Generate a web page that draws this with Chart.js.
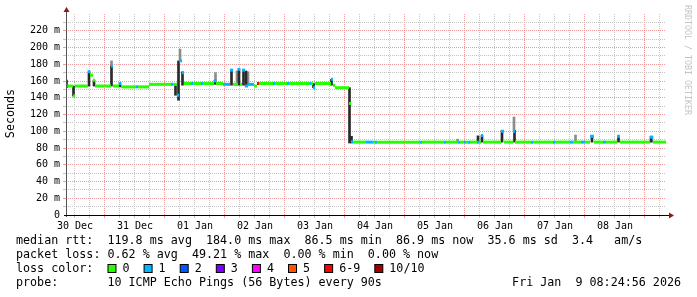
<!DOCTYPE html>
<html>
<head>
<meta charset="utf-8">
<script src="https://cdn.jsdelivr.net/npm/chart.js@4"></script>
<style>
  html, body { margin: 0; padding: 0; background: #fff; }
  canvas { display: block; }
</style>
</head>
<body>
<canvas id="chart" width="697" height="297"></canvas>
<script>
// time axis: hours since Tue 30 Dec 08:24:56 (graph spans 240 h)
// median rtt, one entry per step (start hour, ms, lost pings of 10)
const stepHours = [0.0, 0.8, 2.8, 3.6, 8.8, 9.6, 10.8, 11.6, 18.0, 18.8, 21.2, 22.0, 28.0, 28.8, 33.2,
  42.0, 42.8, 44.4, 45.2, 46.4, 47.2, 50.0, 50.8, 54.0, 54.8, 59.2, 60.0, 62.8, 65.6, 66.8, 68.8,
  69.6, 70.4, 71.6, 72.8, 75.2, 76.4, 77.2, 82.8, 83.6, 88.4, 89.2, 97.6, 98.0, 98.8, 99.6, 106.0,
  106.8, 107.6, 113.2, 114.0, 114.8, 120.0, 122.8, 123.6, 124.4, 141.6, 142.4, 151.2, 152.0, 156.8,
  157.6, 159.2, 160.0, 160.8, 161.6, 164.4, 165.2, 166.0, 166.8, 174.0, 175.2, 178.8, 179.6, 186.0,
  186.8, 194.8, 195.6, 201.6, 202.8, 206.0, 207.6, 209.6, 211.2, 214.8, 216.0, 220.4, 221.6, 233.6,
  234.8];
const stepMedian = [154, 154, 142, 154, 171, 167, 161, 154, 178, 154, 157, 153, 153, 153, 156,
  156, 156, 143, 184, 170, 157, 157, 157, 157, 157, 160, 157, 156, 173, 156, 174,
  156, 173, 154, 156, 154, 157, 157, 157, 157, 157, 157, 157, 157, 152, 157, 162,
  155, 152, 133, 87.5, 87, 87, 87, 87, 87, 87, 87, 87, 87, 87,
  87, 87, 87, 87, 87, 87, 87, 95, 87, 100, 87, 100, 87, 87,
  87, 87, 87, 87, 87, 87, 87, 94, 87, 87, 87, 94, 87, 93,
  87];
const stepLoss = [1, 0, 0, 0, 1, 0, 0, 0, 1, 0, 1, 0, 1, 0, 0,
  1, 0, 1, 1, 1, 0, 1, 0, 1, 0, 1, 0, 1, 1, 0, 1,
  0, 1, 1, 1, 0, 6, 0, 1, 0, 1, 0, 1, 0, 1, 0, 1,
  0, 0, 0, 1, 0, 1, 0, 1, 0, 1, 0, 1, 0, 1,
  0, 1, 0, 1, 0, 1, 0, 1, 0, 1, 0, 1, 0, 1,
  0, 1, 0, 1, 0, 1, 0, 1, 0, 1, 0, 1, 0, 1,
  0];
const endHour = 240;

// dark smoke (spread of the pings)
const smokeHours = [0.2, 3.0, 9.2, 11.2, 18.2, 21.6, 43.8, 45.0, 46.6, 59.6, 66.2, 69.2, 71.0, 72.0,
  99.0, 106.2, 113.4, 114.2, 164.8, 166.4, 174.4, 179.4, 210.4, 221.0, 234.0];
const smokeLow = [152, 142, 154, 154, 154, 153, 143, 137, 155, 156, 155, 155, 155, 154,
  152, 155, 86, 86, 87, 87, 87, 87, 87, 87, 87];
const smokeHigh = [161, 154, 172, 161, 178, 158, 157, 184, 171, 161, 173, 175, 173, 172,
  157, 162, 152, 94, 94.5, 95, 101, 101, 94.5, 94, 94];

// pale smoke (outer pings)
const paleHours = [18.2, 45.6, 59.8, 68.4, 72.8, 156.6, 179.2, 203.8, 234.4];
const paleLow = [178, 184, 161, 155, 155, 87, 101, 87, 87];
const paleHigh = [184, 198, 170, 172, 171, 90.5, 117, 95.5, 94];

const dayLabels = ['30 Dec', '31 Dec', '01 Jan', '02 Jan', '03 Jan', '04 Jan', '05 Jan', '06 Jan', '07 Jan', '08 Jan'];
const firstNoon = 3.584;   // 30 Dec 12:00

const lossLabels = ['0', '1', '2', '3', '4', '5', '6-9', '10/10'];
const lossColors = ['#26ff00', '#00b8ff', '#0059ff', '#7e00ff', '#ff00ff', '#ff5500', '#ff0000', '#a10000'];

const statLines = [
  'median rtt:  119.8 ms avg  184.0 ms max  86.5 ms min  86.9 ms now  35.6 ms sd  3.4   am/s',
  'packet loss: 0.62 % avg  49.21 % max  0.00 % min  0.00 % now'
];
const probeText = 'probe:       10 ICMP Echo Pings (56 Bytes) every 90s';
const dateText = 'Fri Jan  9 08:24:56 2026';

function lossColor(n) {
  if (n >= 10) return lossColors[7];
  if (n >= 6) return lossColors[6];
  return lossColors[n];
}

const medianPoints = [];
stepHours.forEach((h, i) => {
  const end = i + 1 < stepHours.length ? stepHours[i + 1] : endHour;
  medianPoints.push({ x: h, y: stepMedian[i] }, { x: end, y: stepMedian[i] }, { x: end, y: null });
});

const xTicks = [];
for (let v = firstNoon; v < endHour; v += 6) xTicks.push(v);

const MINOR = '#c4c4c4';
const MAJOR = '#ec9c9c';
const MONO = "'DejaVu Sans Mono', monospace";

Chart.defaults.font.family = MONO;

const extras = {
  id: 'extras',
  beforeDraw(chart) {
    const c = chart.ctx;
    c.save();
    c.fillStyle = '#fff';
    c.fillRect(0, 0, chart.width, chart.height);
    c.restore();
  },
  afterDraw(chart) {
    const c = chart.ctx;
    const a = chart.chartArea;
    c.save();

    // axes with arrows
    c.lineWidth = 1;
    c.strokeStyle = '#555';
    c.beginPath();
    c.moveTo(a.left + 0.5, a.bottom + 2);
    c.lineTo(a.left + 0.5, 10);
    c.stroke();
    c.strokeStyle = '#000';
    c.beginPath();
    c.moveTo(a.left - 2, a.bottom + 0.5);
    c.lineTo(a.right + 5, a.bottom + 0.5);
    c.stroke();
    c.fillStyle = '#8b1a1a';
    c.beginPath();
    c.moveTo(a.left + 0.5, 7);
    c.lineTo(a.left - 2.5, 12);
    c.lineTo(a.left + 3.5, 12);
    c.closePath();
    c.fill();
    c.beginPath();
    c.moveTo(a.right + 8, a.bottom + 0.5);
    c.lineTo(a.right + 3, a.bottom - 2.5);
    c.lineTo(a.right + 3, a.bottom + 3.5);
    c.closePath();
    c.fill();

    // axis title
    c.fillStyle = '#000';
    c.font = '11.7px ' + MONO;
    c.textAlign = 'center';
    c.textBaseline = 'middle';
    c.save();
    c.translate(10.5, 113.5);
    c.rotate(-Math.PI / 2);
    c.fillText('Seconds', 0, 0);
    c.restore();

    // watermark
    c.save();
    c.fillStyle = '#c4c4c4';
    c.font = '8.3px ' + MONO;
    c.translate(687, 5);
    c.rotate(Math.PI / 2);
    c.textAlign = 'left';
    c.fillText('RRDTOOL / TOBI OETIKER', 0, 0);
    c.restore();

    // legend block
    c.font = '11.7px ' + MONO;
    c.textAlign = 'left';
    c.fillStyle = '#000';
    const left = 16;
    c.fillText(statLines[0], left, 241);
    c.fillText(statLines[1], left, 255);
    c.fillText('loss color:', left, 269);
    const cw = c.measureText('0').width;
    let bx = left + 13 * cw;
    lossLabels.forEach((lab, i) => {
      c.fillStyle = lossColors[i];
      c.fillRect(bx + 0.5, 264.5, 8, 8);
      c.strokeStyle = '#000';
      c.strokeRect(bx + 0.5, 264.5, 8, 8);
      c.fillStyle = '#000';
      c.fillText(lab, bx + 15, 269);
      bx += 15 + (lab.length + 2) * cw;
    });
    c.fillText(probeText, left, 283);
    c.textAlign = 'right';
    c.fillText(dateText, 681, 283);
    c.restore();
  }
};

new Chart(document.getElementById('chart'), {
  type: 'line',
  data: {
    datasets: [
      {
        label: 'median',
        data: medianPoints,
        order: 0,
        borderWidth: 3,
        borderCapStyle: 'butt',
        pointRadius: 0,
        spanGaps: false,
        tension: 0,
        borderColor: lossColors[0],
        segment: {
          borderColor: ctx => lossColor(stepLoss[Math.floor(ctx.p0DataIndex / 3)])
        }
      },
      {
        type: 'bar',
        label: 'smoke',
        data: smokeHours.map((h, i) => ({ x: h, y: [smokeLow[i], smokeHigh[i]] })),
        order: 1,
        backgroundColor: '#2a2a2a',
        barThickness: 2,
        grouped: false
      },
      {
        type: 'bar',
        label: 'pale smoke',
        data: paleHours.map((h, i) => ({ x: h, y: [paleLow[i], paleHigh[i]] })),
        order: 2,
        backgroundColor: '#8c8c8c',
        barThickness: 2,
        grouped: false
      }
    ]
  },
  options: {
    responsive: false,
    animation: false,
    devicePixelRatio: 1,
    layout: { padding: { left: 0, right: 31, top: 14, bottom: 0 } },
    plugins: { legend: { display: false }, tooltip: { enabled: false } },
    scales: {
      x: {
        type: 'linear',
        min: 0,
        max: endHour,
        offset: false,
        afterBuildTicks: s => { s.ticks = xTicks.map(v => ({ value: v })); },
        afterFit: s => { s.height = 82; },
        border: { display: false, dash: [1, 1] },
        grid: {
          offset: false,
          tickLength: 3,
          color: ctx => {
            const k = Math.round((ctx.tick.value - firstNoon) / 6);
            return k % 4 === 2 ? MAJOR : MINOR;
          }
        },
        ticks: {
          autoSkip: false,
          maxRotation: 0,
          minRotation: 0,
          padding: 2,
          color: '#000',
          font: { size: 10 },
          callback: (v, i) => (i % 4 === 0 ? dayLabels[i / 4] : '')
        }
      },
      y: {
        min: 0,
        max: 240,
        afterFit: s => { s.width = 66; },
        border: { display: false, dash: [1, 1] },
        grid: {
          tickLength: 3,
          color: ctx => {
            const v = ctx.tick.value;
            if (v === 0 || v === 240) return 'rgba(0,0,0,0)';
            return v % 20 === 0 ? MAJOR : MINOR;
          }
        },
        ticks: {
          stepSize: 10,
          autoSkip: false,
          padding: 3,
          color: '#000',
          font: { size: 10 },
          callback: v => (v % 20 === 0 && v < 240 ? (v === 0 ? '0' : v + ' m') : '')
        }
      }
    }
  },
  plugins: [extras]
});
</script>
</body>
</html>
